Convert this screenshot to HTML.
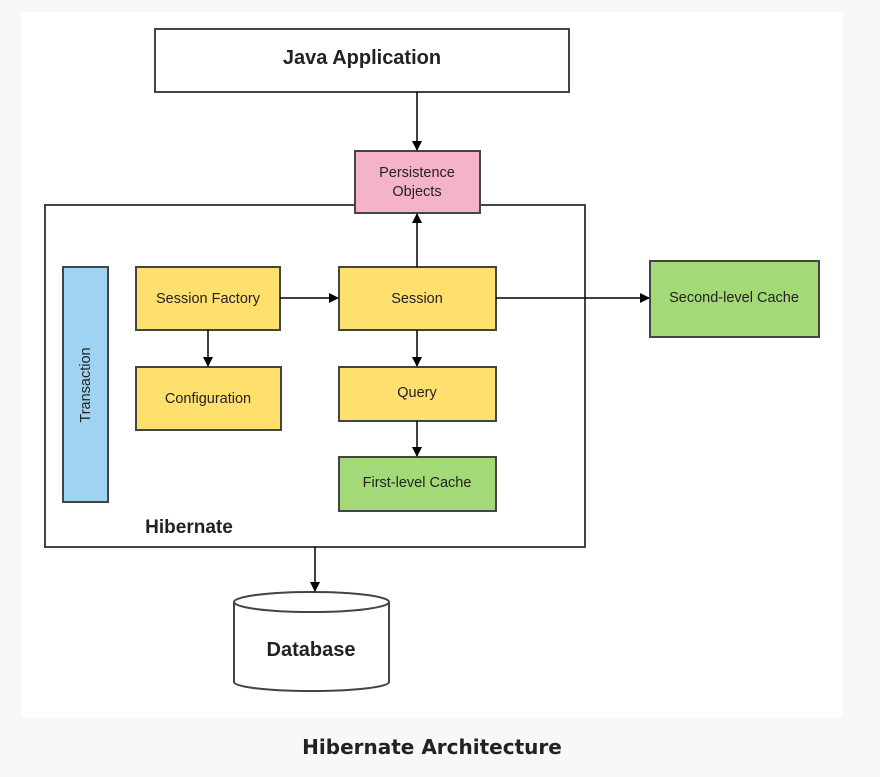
<!DOCTYPE html>
<html><head><meta charset="utf-8"><style>
html,body{margin:0;padding:0;background:#f8f8f8;width:880px;height:777px;overflow:hidden}
svg{display:block}
</style></head><body>
<svg width="880" height="777" viewBox="0 0 880 777" xmlns="http://www.w3.org/2000/svg" font-family="Liberation Sans, Arial, sans-serif">
<defs><marker id="a" markerWidth="10" markerHeight="10" refX="9" refY="5" orient="auto" markerUnits="userSpaceOnUse"><path d="M0,0 L10,5 L0,10 z" fill="#000"/></marker></defs>
<rect x="21" y="12" width="822" height="706" fill="#fff"/>
<g stroke="#444" stroke-width="2">
<rect x="45" y="205" width="540" height="342" fill="#fff"/>
<rect x="155" y="29" width="414" height="63" fill="#fff"/>
<rect x="355" y="151" width="125" height="62" fill="#f4b3c8"/>
<rect x="63" y="267" width="45" height="235" fill="#9ed3f2"/>
<rect x="136" y="267" width="144" height="63" fill="#ffdf6e"/>
<rect x="339" y="267" width="157" height="63" fill="#ffdf6e"/>
<rect x="136" y="367" width="145" height="63" fill="#ffdf6e"/>
<rect x="339" y="367" width="157" height="54" fill="#ffdf6e"/>
<rect x="339" y="457" width="157" height="54" fill="#a3d977"/>
<rect x="650" y="261" width="169" height="76" fill="#a3d977"/>
<path d="M234,602 L234,682 A77,9 0 0 0 389,682 L389,602" fill="#fff"/>
<ellipse cx="311.5" cy="602" rx="77.5" ry="10" fill="#fff"/>
</g>
<g stroke="#000" stroke-width="1.5" fill="none" marker-end="url(#a)">
<line x1="417" y1="92" x2="417" y2="150"/>
<line x1="417" y1="267" x2="417" y2="214"/>
<line x1="280" y1="298" x2="338" y2="298"/>
<line x1="496" y1="298" x2="649" y2="298"/>
<line x1="208" y1="330" x2="208" y2="366"/>
<line x1="417" y1="330" x2="417" y2="366"/>
<line x1="417" y1="421" x2="417" y2="456"/>
<line x1="315" y1="547" x2="315" y2="591"/>
</g>
<g fill="#222" text-anchor="middle" font-size="14.5">
<text x="362" y="64" font-size="20" font-weight="bold">Java Application</text>
<text x="417" y="177">Persistence</text>
<text x="417" y="196">Objects</text>
<text x="208" y="303">Session Factory</text>
<text x="417" y="303">Session</text>
<text x="208" y="403">Configuration</text>
<text x="417" y="397">Query</text>
<text x="417" y="487">First-level Cache</text>
<text x="734" y="302">Second-level Cache</text>
<text transform="translate(90,385) rotate(-90)">Transaction</text>
<text x="189" y="533" font-size="19" font-weight="bold">Hibernate</text>
<text x="311" y="656" font-size="20" font-weight="bold">Database</text>
<text x="432" y="754" font-size="20" font-weight="bold" font-family="DejaVu Sans, sans-serif">Hibernate Architecture</text>
</g>
</svg>
</body></html>
